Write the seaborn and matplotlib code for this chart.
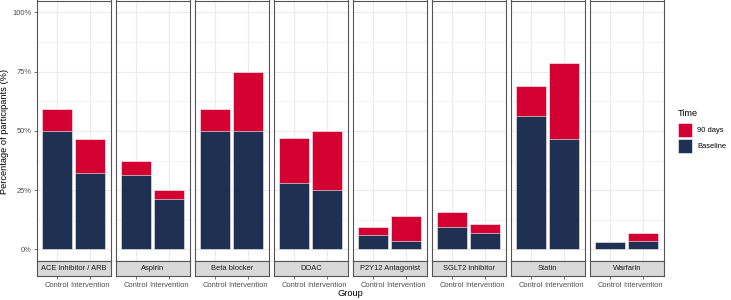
import matplotlib
matplotlib.use("Agg")
import matplotlib.pyplot as plt
from matplotlib.ticker import FixedLocator, PercentFormatter
import seaborn as sns
import pandas as pd

# Data (percent of participants)
drugs = ["ACE inhibitor / ARB", "Aspirin", "Beta blocker", "DOAC",
         "P2Y12 Antagonist", "SGLT2 inhibitor", "Statin", "Warfarin"]
groups = ["Control", "Intervention"]
baseline_control = [50.0, 31.25, 50.0, 28.1, 6.25, 9.4, 56.25, 3.1]
baseline_interv = [32.1, 21.4, 50.0, 25.0, 3.6, 7.1, 46.4, 3.6]
days90_control = [9.4, 6.25, 9.4, 18.75, 3.1, 6.25, 12.5, 0.0]
days90_interv = [14.3, 3.6, 25.0, 25.0, 10.7, 3.6, 32.2, 3.5]

rows = []
for i, d in enumerate(drugs):
    rows.append((d, "Control", baseline_control[i], days90_control[i]))
    rows.append((d, "Intervention", baseline_interv[i], days90_interv[i]))
df = pd.DataFrame(rows, columns=["Drug", "Group", "Baseline", "Days90"])
df["Total"] = df["Baseline"] + df["Days90"]

sns.set_theme(style="white")
plt.rcParams["font.family"] = ["Liberation Sans", "DejaVu Sans"]

RED = "#D50032"
NAVY = "#1F3152"
GRID = "#EBEBEB"
BORDER = "#555555"

W, H = 731, 300
fig = plt.figure(figsize=(W / 100, H / 100), dpi=100)

left0, step, pw = 37, 79, 73.5
ptop, pbot = 0.5, 261.3
strip_h = 15

for i, d in enumerate(drugs):
    x0 = left0 + i * step
    ax = fig.add_axes([x0 / W, (H - pbot) / H, pw / W, (pbot - ptop) / H])
    sub = df[df["Drug"] == d]
    # 90-day segment stacked on top of baseline: draw total, then baseline over it
    sns.barplot(data=sub, x="Group", y="Total", order=groups, color=RED,
                saturation=1, width=0.9, edgecolor="white", linewidth=0.4,
                ax=ax, zorder=3)
    sns.barplot(data=sub, x="Group", y="Baseline", order=groups, color=NAVY,
                saturation=1, width=0.9, edgecolor="white", linewidth=0.4,
                ax=ax, zorder=3)
    ax.set_xlim(-0.6, 1.6)
    ax.set_ylim(-5, 105)
    ax.yaxis.set_major_locator(FixedLocator([0, 25, 50, 75, 100]))
    ax.yaxis.set_minor_locator(FixedLocator([12.5, 37.5, 62.5, 87.5]))
    ax.grid(True, which="major", color=GRID, lw=0.8, zorder=0)
    ax.grid(True, which="minor", axis="y", color=GRID, lw=0.4, zorder=0)
    ax.set_axisbelow(True)
    ax.set_xlabel("")
    ax.set_ylabel("")
    ax.tick_params(axis="x", bottom=False, labelbottom=False)
    for s in ax.spines.values():
        s.set_color(BORDER)
        s.set_linewidth(0.8)
    if i == 0:
        ax.yaxis.set_major_formatter(PercentFormatter(decimals=0))
        ax.tick_params(axis="y", which="major", left=True, length=2.5,
                       width=0.5, color="#333333", labelsize=5.4,
                       labelcolor="#4D4D4D", pad=1.5)
        ax.tick_params(axis="y", which="minor", left=False)
    else:
        ax.tick_params(axis="y", which="both", left=False, labelleft=False)

    # facet strip below the panel
    sx = fig.add_axes([x0 / W, (H - pbot - strip_h) / H, pw / W, strip_h / H])
    sx.set_facecolor("#D9D9D9")
    sx.set_xlim(-0.6, 1.6)
    sx.set_ylim(0, 1)
    sx.set_yticks([])
    sx.set_xticks([0, 1])
    sx.set_xticklabels(groups)
    sx.tick_params(axis="x", bottom=True, length=2.5, width=0.5,
                   color="#333333", labelsize=5.4, labelcolor="#4D4D4D", pad=1.5)
    for s in sx.spines.values():
        s.set_color(BORDER)
        s.set_linewidth(0.8)
    sx.text(0.5, 0.5, d, transform=sx.transAxes, ha="center", va="center",
            fontsize=5.4, color="#1A1A1A")

fig.text(5 / W, 1 - 131 / H, "Percentage of participants (%)", rotation=90,
         ha="center", va="center", fontsize=6.7, color="black")
fig.text(350 / W, 1 - 294 / H, "Group", ha="center", va="center",
         fontsize=6.7, color="black")

# legend
fig.text(678 / W, 1 - 114 / H, "Time", ha="left", va="center",
         fontsize=6.7, color="black")
for j, (lab, col) in enumerate([("90 days", RED), ("Baseline", NAVY)]):
    ky = 123 + j * 16
    fig.patches.append(plt.Rectangle((678 / W, 1 - (ky + 14) / H), 14 / W, 14 / H,
                                     transform=fig.transFigure, facecolor=col,
                                     edgecolor="white", lw=0.4))
    fig.text(697 / W, 1 - (ky + 7) / H, lab, ha="left", va="center",
             fontsize=5.4, color="black")

fig.savefig("out.png", dpi=100, facecolor="white")
